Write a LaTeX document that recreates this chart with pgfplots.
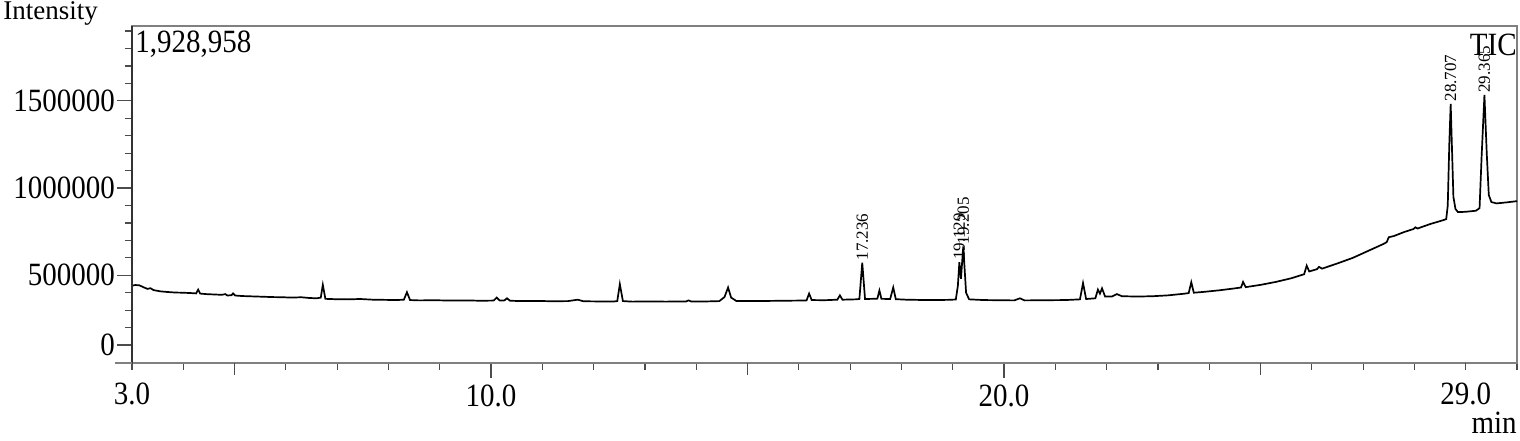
\documentclass[border=0pt]{standalone}
\usepackage{fontspec}
\setmainfont{Liberation Serif}
\usepackage{graphicx}
\usepackage{pgfplots}
\pgfplotsset{compat=1.18}
\usepackage{pgfplotstable}
\newcommand{\St}[1]{\scalebox{1}[1.12]{#1}}

\pgfplotstableread{
t v
3.00 440000
3.06 444000
3.14 443000
3.22 432000
3.30 422000
3.36 426000
3.42 415000
3.55 408000
3.70 404000
3.85 401000
4.00 400000
4.15 398000
4.25 396000
4.29 418000
4.33 395000
4.45 392000
4.60 390000
4.75 388000
4.82 392000
4.86 384000
4.94 386000
4.97 396000
5.01 384000
5.15 381000
5.35 379000
5.55 377000
5.75 375000
5.95 374000
6.10 372000
6.30 374000
6.45 370000
6.60 368000
6.68 372000
6.72 445000
6.77 365000
6.95 363000
7.20 362000
7.45 364000
7.70 360000
7.95 359000
8.15 358000
8.30 360000
8.36 403000
8.42 358000
8.60 356000
8.90 357000
9.20 355000
9.50 356000
9.80 354000
10.05 355000
10.11 372000
10.17 355000
10.26 356000
10.31 368000
10.37 354000
10.60 352000
10.90 353000
11.20 351000
11.50 352000
11.69 360000
11.80 351000
12.10 350000
12.40 350000
12.46 352000
12.51 449000
12.57 352000
12.75 349000
13.10 350000
13.40 349000
13.80 350000
13.85 356000
13.90 350000
14.20 350000
14.45 352000
14.55 375000
14.62 430000
14.68 372000
14.78 353000
15.10 352000
15.40 353000
15.70 354000
16.00 355000
16.15 356000
16.20 395000
16.25 358000
16.50 357000
16.75 360000
16.80 385000
16.85 360000
17.10 362000
17.18 364000
17.236 572000
17.29 364000
17.45 365000
17.53 366000
17.57 413000
17.61 365000
17.78 364000
17.84 430000
17.89 363000
18.10 360000
18.50 358000
18.90 359000
19.06 361000
19.10 440000
19.129 575000
19.16 480000
19.205 665000
19.26 400000
19.32 362000
19.60 358000
19.90 357000
20.20 356000
20.31 368000
20.40 356000
20.80 357000
21.20 358000
21.48 362000
21.54 455000
21.60 364000
21.78 368000
21.83 418000
21.87 395000
21.91 425000
21.97 378000
22.10 378000
22.20 392000
22.30 380000
22.60 378000
22.90 380000
23.20 385000
23.50 394000
23.60 398000
23.65 460000
23.70 400000
23.90 405000
24.20 414000
24.50 425000
24.62 430000
24.66 462000
24.71 432000
25.00 445000
25.30 462000
25.60 483000
25.85 506000
25.90 555000
25.95 522000
26.10 535000
26.14 548000
26.20 538000
26.50 568000
26.80 600000
27.10 640000
27.40 680000
27.46 690000
27.50 718000
27.60 725000
27.80 748000
27.98 765000
28.02 775000
28.06 768000
28.30 793000
28.55 815000
28.62 822000
28.65 900000
28.68 1250000
28.707 1483000
28.73 1250000
28.76 950000
28.80 880000
28.85 862000
29.00 864000
29.20 870000
29.27 885000
29.31 1180000
29.365 1534000
29.41 1200000
29.45 960000
29.50 920000
29.60 912000
29.80 918000
30.00 925000
}\tic

\begin{document}
\begin{tikzpicture}
\useasboundingbox (0,0) rectangle (760pt,220pt);
\begin{axis}[
  at={(66pt,38.75pt)}, anchor=south west,
  scale only axis, width=692.5pt, height=168.25pt,
  xmin=3, xmax=30, ymin=0, ymax=1928958,
  tick pos=left,
  xtick={10,20}, xticklabels={\St{10.0},\St{20.0}},
  extra x ticks={3,29}, extra x tick labels={\St{3.0},\St{29.0}},
  extra x tick style={major tick length=3.5pt, tick label style={yshift=-3pt}},
  xticklabel style={yshift=0pt},
  minor xtick={4,5,6,7,8,9,10,11,12,13,14,15,16,17,18,19,20,21,22,23,24,25,26,27,28,29,30},
  ytick={100000,500000,1000000,1500000},
  yticklabels={\St{0},\St{500000},\St{1000000},\St{1500000}},
  yticklabel style={xshift=2.5pt},
  minor ytick={200000,300000,400000,600000,700000,800000,900000,1100000,1200000,1300000,1400000,1600000,1700000,1800000,1900000},
  tick align=outside, major tick length=7.5pt, minor tick length=3.5pt,
  tick style={line width=0.6pt, color=black!70},
  axis line style={line width=1pt, draw=black!50},
  ticklabel style={font=\fontsize{14.5}{16}\selectfont},
  scaled y ticks=false,
  clip=false,
]
\addplot[black, line width=0.85pt, no marks] table[x=t, y=v] {\tic};
\draw[line width=0.6pt, black!70] (axis cs:5,0) -- ([yshift=-6pt]axis cs:5,0);
\draw[line width=0.6pt, black!70] (axis cs:15,0) -- ([yshift=-6pt]axis cs:15,0);
\draw[line width=0.6pt, black!70] (axis cs:25,0) -- ([yshift=-6pt]axis cs:25,0);
\draw[line width=1pt, black!80] (rel axis cs:0,0) -- (rel axis cs:0,1);
\draw[line width=1pt, black!50] (rel axis cs:0,0) -- ([xshift=-8.5pt]rel axis cs:0,0);
\tikzset{pk/.style={rotate=90, anchor=west, inner sep=1pt, font=\fontsize{8.5}{9}\selectfont}}
\node[pk] at (axis cs:17.236,572000) {17.236};
\node[pk] at (axis cs:19.129,575000) {19.129};
\node[pk] at (axis cs:19.205,665000) {19.205};
\node[pk] at (axis cs:28.707,1483000) {28.707};
\node[pk] at (axis cs:29.365,1534000) {29.365};
\end{axis}
\node[anchor=base west, inner sep=0, font=\fontsize{13.5}{16}\selectfont] at (1.5pt,210pt) {Intensity};
\node[anchor=base west, inner sep=0, font=\fontsize{14.5}{16}\selectfont] at (67.5pt,193.5pt) {\St{1,928,958}};
\node[anchor=base east, inner sep=0, font=\fontsize{14.5}{16}\selectfont] at (758.5pt,192.5pt) {\St{TIC}};
\node[anchor=base east, inner sep=0, font=\fontsize{14.5}{16}\selectfont] at (758.5pt,3.5pt) {\St{min}};
\end{tikzpicture}
\end{document}
